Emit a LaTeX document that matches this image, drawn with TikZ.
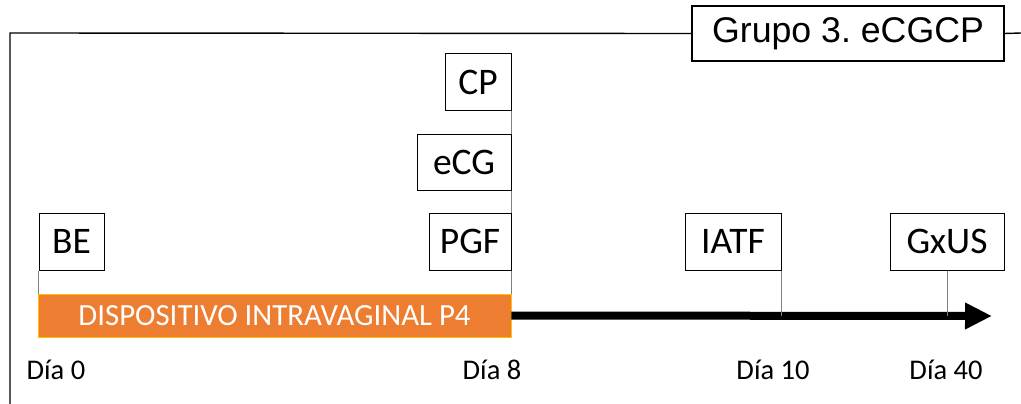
\documentclass[tikz,border=0pt]{standalone}
\usepackage{fontspec}
\setmainfont{Carlito}
\newfontfamily\arialfont{Liberation Sans}
\usetikzlibrary{arrows.meta}

\definecolor{naranja}{RGB}{237,125,49}
\definecolor{borde}{RGB}{255,192,0}

\tikzset{
  evento/.style={draw, line width=1pt, minimum height=57pt, inner sep=0pt,
    font=\fontsize{37.5}{42}\selectfont},
  guia/.style={draw=gray, line width=0.9pt},
  dia/.style={inner sep=0pt, font=\fontsize{28.5}{32}\selectfont}
}

\begin{document}
\begin{tikzpicture}[x=1pt, y=-1pt]
  \useasboundingbox (0,0) rectangle (1021,404);
  \node[draw, line width=1.2pt, minimum width=312pt, minimum height=55pt, inner sep=0pt,
    font=\arialfont\fontsize{35.7}{40}\selectfont] (titulo) at (848,33.5) {Grupo 3.\ eCGCP};
  \draw[line width=1.4pt] (10,404) -- (10,33) -- (titulo.west);
  \draw[line width=1.4pt] (titulo.east) -- (1021,33);

  \node[fill=naranja, draw=borde, line width=0.8pt, minimum width=473pt, minimum height=43pt,
    inner sep=0pt, text=white, font=\fontsize{30.8}{34}\selectfont] (dispositivo) at (274.5,315.5)
    {DISPOSITIVO INTRAVAGINAL P4};
  \coordinate (fin) at (992,316);

  \node[evento, minimum width=65pt] (BE) at (71.5,241.5) {BE};
  \node[evento, minimum width=82pt] (PGF) at (470,241.5) {PGF};
  \node[evento, minimum width=94pt, minimum height=56pt] (eCG) at (464,162) {eCG};
  \node[evento, minimum width=66pt] (CP) at (478,82.5) {CP};
  \node[evento, minimum width=96pt] (IATF) at (733,241.5) {IATF};
  \node[evento, minimum width=114pt] (GxUS) at (947,241.5) {GxUS};

  \draw[line width=8pt, -{Triangle[length=27pt, width=25pt]}] (dispositivo.east) -- (fin);

  \draw[guia] (BE.south west) -- (BE.south west |- dispositivo.north);
  \draw[guia] (CP.south east) -- (eCG.north east);
  \draw[guia] (eCG.south east) -- (PGF.north east);
  \draw[guia] (PGF.south east) -- (PGF.south east |- dispositivo.north);
  \draw[guia] (IATF.south east) -- (IATF.south east |- fin);
  \draw[guia] (GxUS.south) -- (GxUS.south |- fin);

  \node[dia] (d0) at (56,370) {Día 0};
  \node[dia] (d8) at (492,370) {Día 8};
  \node[dia] (d10) at (773,370) {Día 10};
  \node[dia] (d40) at (946,370) {Día 40};
\end{tikzpicture}
\end{document}
